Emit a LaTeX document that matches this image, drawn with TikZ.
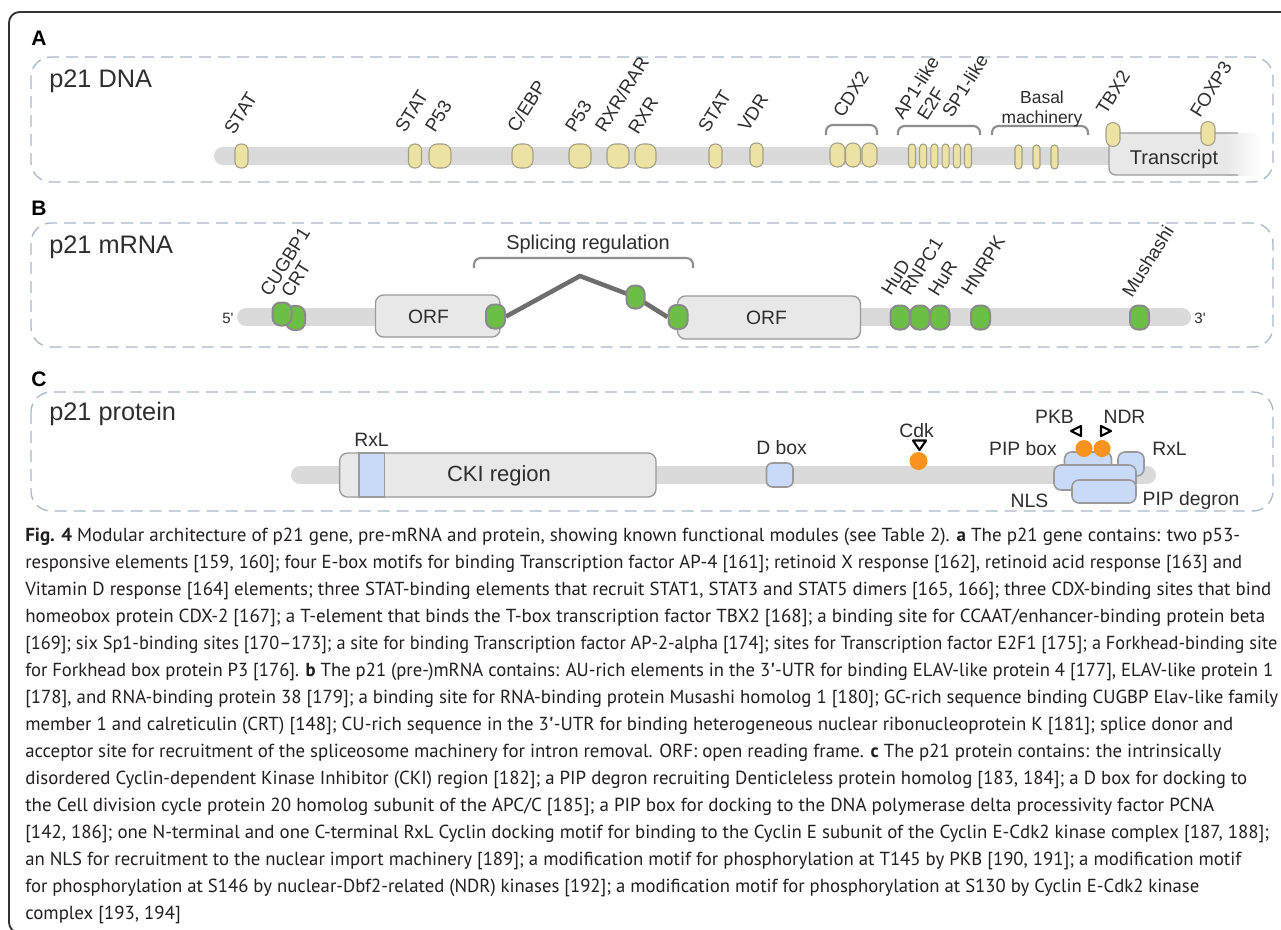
\documentclass[tikz,border=0pt]{standalone}
\usepackage{fontspec}
\usepackage{graphicx}
\setmainfont{Liberation Sans}
\newfontfamily\capfont[Ligatures=TeX]{PT Sans}
\usetikzlibrary{shapes.geometric}
\pgfdeclarelayer{bg}
\pgfsetlayers{bg,main}
\definecolor{frmc}{HTML}{333333}
\definecolor{dashc}{HTML}{A7BBCD}
\definecolor{barc}{HTML}{DADADA}
\definecolor{yelf}{HTML}{ECE2A4}
\definecolor{yelb}{HTML}{A39E86}
\definecolor{grnf}{HTML}{6DBE45}
\definecolor{grnb}{HTML}{8A8A8A}
\definecolor{boxf}{HTML}{E8E8E8}
\definecolor{boxb}{HTML}{9A9A9A}
\definecolor{bluf}{HTML}{C9DAF8}
\definecolor{orng}{HTML}{F7931E}
\definecolor{txt}{HTML}{2E2E2E}
\definecolor{splc}{HTML}{6E6E6E}
\definecolor{brkc}{HTML}{8E8E8E}
\definecolor{captc}{HTML}{231F20}
\newcommand\elem[6]{\node[#1,minimum width=#4*0.75pt,minimum height=#5*0.75pt,rounded corners=#6*0.75pt] (#2) at (#3) {};}
\newcommand\capline[4]{\node[captxt] (#1) at (25,#2) {\resizebox{\dimexpr #3pt*3/4\relax}{\height}{#4}};}
\newlength\capw
\begin{document}
\settowidth\capw{\capfont\fontsize{10pt}{12pt}\selectfont [142, 186]; one N-terminal and one C-terminal RxL Cyclin docking motif for binding to the Cyclin E subunit of the Cyclin E-Cdk2 kinase complex [187, 188];}%
\pgfmathsetmacro\capsz{10*933/\capw}%
\begin{tikzpicture}[x=0.75pt,y=-0.75pt,
 frameline/.style={draw=frmc, line width=1.4pt, rounded corners=8pt},
 panelbox/.style={draw=dashc, line width=1pt, dash pattern=on 9pt off 5.25pt, rounded corners=15pt},
 pletter/.style={font=\fontsize{15.75pt}{16pt}\selectfont\bfseries, anchor=base west, inner sep=0pt, text=black},
 ptitle/.style={font=\fontsize{19pt}{21pt}\selectfont, anchor=base west, inner sep=0pt, text=txt},
 barline/.style={draw=barc, line width=13.5pt, line cap=round},
 dnael/.style={draw=yelb, fill=yelf, line width=0.8pt, inner sep=0pt},
 rnael/.style={draw=grnb, fill=grnf, line width=1.5pt, inner sep=0pt},
 protel/.style={draw=boxb, fill=bluf, line width=1.2pt, inner sep=0pt},
 greybox/.style={draw=boxb, fill=boxf, line width=1pt, inner sep=0pt, rounded corners=6pt},
 rlbl/.style={font=\fontsize{14pt}{15pt}\selectfont, text=txt, inner sep=0pt, rotate=58, anchor=base west},
 plbl/.style={font=\fontsize{14.5pt}{16pt}\selectfont, text=txt, inner sep=0pt},
 bigtxt/.style={font=\fontsize{15pt}{16pt}\selectfont, text=txt, inner sep=0pt},
 brk/.style={draw=brkc, line width=1.6pt, rounded corners=5pt},
 splice/.style={draw=splc, line width=3.4pt, line join=round},
 tri/.style={draw=black, line width=1.6pt, line join=round, fill=white},
 phos/.style={circle, fill=orng, inner sep=0pt, minimum size=18*0.75pt},
 captxt/.style={anchor=base west, inner sep=0pt, text=captc, font=\capfont\fontsize{\capsz pt}{\capsz pt}\selectfont}
]
\useasboundingbox (0,0) rectangle (1281,929);
\begin{pgfonlayer}{bg}
\fill[white] (0,0) rectangle (1281,929);
\end{pgfonlayer}
\begin{scope}
\clip (0,0) rectangle (1281,929);
\draw[frameline] (9,12) rectangle (1300,933);
\end{scope}

% ---------- panel boxes ----------
\draw[panelbox] (31,57) rectangle (1273,182);
\draw[panelbox] (31,223) rectangle (1273,347);
\draw[panelbox] (31,392) rectangle (1273,511);

\node[pletter] (la) at (31,45) {A};
\node[pletter] (lb) at (31,215) {B};
\node[pletter] (lc) at (31,386) {C};
\node[ptitle] (ta) at (49,87) {p21 DNA};
\node[ptitle] (tb) at (49,253) {p21 mRNA};
\node[ptitle] (tc) at (49,420) {p21 protein};

% ---------- panel A ----------
\begin{pgfonlayer}{bg}
\draw[barline] (223,156) -- (1115,156);
\end{pgfonlayer}
\elem{dnael}{stat1}{241.5,156}{13}{24}{6}
\elem{dnael}{stat2}{415,156}{13}{24}{6}
\elem{dnael}{p53a}{440,156}{22}{24}{8}
\elem{dnael}{cebp}{522.5,156}{21}{24}{8}
\elem{dnael}{p53b}{580,156}{22}{24}{8}
\elem{dnael}{rxrrar}{618,156}{22}{24}{8}
\elem{dnael}{rxr}{645.5,156}{21}{24}{8}
\elem{dnael}{stat3}{715.5,156}{13}{24}{6}
\elem{dnael}{vdr}{756.5,155}{13}{24}{6}
\elem{dnael}{cdxa}{837.5,155}{15}{24}{7}
\elem{dnael}{cdxb}{853,155}{15}{24}{7}
\elem{dnael}{cdxc}{869.5,155}{15}{24}{7}
\elem{dnael}{spa}{912,156}{7}{24}{3.4}
\elem{dnael}{spb}{923.2,156}{7}{24}{3.4}
\elem{dnael}{spc}{934.4,156}{7}{24}{3.4}
\elem{dnael}{spd}{945.6,156}{7}{24}{3.4}
\elem{dnael}{spe}{956.8,156}{7}{24}{3.4}
\elem{dnael}{spf}{968,156}{7}{24}{3.4}
\elem{dnael}{bsa}{1018.5,157}{7}{24}{3.4}
\elem{dnael}{bsb}{1036.5,157}{7}{24}{3.4}
\elem{dnael}{bsc}{1054.5,157}{7}{24}{3.4}

% transcript
\fill[boxf, rounded corners=5pt] (1240,133) -- (1109,133) -- (1109,175) -- (1240,175) -- cycle;
\shade[left color=boxf, right color=white] (1226,133) rectangle (1262,175);
\draw[draw=boxb, line width=1pt, rounded corners=5pt] (1238,133) -- (1109,133) -- (1109,175) -- (1238,175);
\node[bigtxt] (transcript) at (1174,159) {Transcript};
\elem{dnael}{tbx}{1113,134.5}{14}{24}{7}
\elem{dnael}{foxp}{1208,133.5}{14}{24}{7}

\draw[brk] (826,135) -- (826,125) -- (877,125) -- (877,135);
\draw[brk] (898,135) -- (898,126) -- (980,126) -- (980,135);
\draw[brk] (992,135) -- (992,126) -- (1088,126) -- (1088,135);

\node[rlbl] (lstat1) at (234,136) {STAT};
\node[rlbl] (lstat2) at (405,134) {STAT};
\node[rlbl] (lp53a) at (435,134) {P53};
\node[rlbl] (lcebp) at (517,134) {C/EBP};
\node[rlbl] (lp53b) at (575,134) {P53};
\node[rlbl] (lrxrrar) at (605,134) {RXR/RAR};
\node[rlbl] (lrxr) at (638,136) {RXR};
\node[rlbl] (lstat3) at (708,134) {STAT};
\node[rlbl] (lvdr) at (748,133) {VDR};
\node[rlbl] (lcdx) at (843,119) {CDX2};
\node[rlbl] (lap1) at (903,121) {AP1-like};
\node[rlbl] (le2f) at (927,122) {E2F};
\node[rlbl] (lsp1) at (952,119) {SP1-like};
\node[plbl, font=\fontsize{13.1pt}{15pt}\selectfont, align=center] (lbasal) at (1042,109) {Basal\\machinery};
\node[rlbl] (ltbx) at (1106,116) {TBX2};
\node[rlbl] (lfox) at (1200,119) {FOXP3};

% ---------- panel B ----------
\begin{pgfonlayer}{bg}
\draw[barline] (246,317) -- (420,317);
\draw[barline] (840,317) -- (1182,317);
\end{pgfonlayer}
\node[plbl, font=\fontsize{11.25pt}{12pt}\selectfont] (five) at (228,318) {5\textquotesingle};
\node[plbl, font=\fontsize{11.25pt}{12pt}\selectfont] (three) at (1200,318) {3\textquotesingle};
\elem{rnael}{crt}{295.5,318}{19}{24}{8}
\elem{rnael}{cugbp}{282,314}{19}{23}{8}
\node[greybox, minimum width=124.5*0.75pt, minimum height=42*0.75pt] (orf1) at (437.75,316) {};
\node[bigtxt, font=\fontsize{14.5pt}{16pt}\selectfont] (orf1t) at (428.5,317) {ORF};
\node[greybox, minimum width=183*0.75pt, minimum height=43*0.75pt] (orf2) at (769,317.5) {};
\node[bigtxt, font=\fontsize{14.5pt}{16pt}\selectfont] (orf2t) at (766.5,318) {ORF};
\elem{rnael}{don}{495.5,316.5}{19}{24}{8}
\elem{rnael}{mid}{635.5,297}{18}{23}{8}
\elem{rnael}{acc}{678,317}{19}{24}{8}
\coordinate (peak) at (580,276);
\begin{pgfonlayer}{bg}
\draw[splice] (don.east) -- (peak) -- (mid.center) -- (acc.west);
\end{pgfonlayer}
\elem{rnael}{hud}{900,317.5}{19}{24}{8}
\elem{rnael}{rnpc}{920,317.5}{19}{24}{8}
\elem{rnael}{hur}{940,317.5}{19}{24}{8}
\elem{rnael}{hnrpk}{980.5,317.5}{19}{24}{8}
\elem{rnael}{mush}{1139.5,317.5}{19}{24}{8}
\draw[brk] (474,268) -- (474,258) -- (693,258) -- (693,268);
\node[bigtxt] (splreg) at (588,244) {Splicing regulation};
\node[rlbl] (lcugbp) at (270,298) {CUGBP1};
\node[rlbl] (lcrt) at (291,299) {CRT};
\node[rlbl] (lhud) at (891,297) {HuD};
\node[rlbl] (lrnpc) at (910,297) {RNPC1};
\node[rlbl] (lhur) at (938,298) {HuR};
\node[rlbl] (lhnrpk) at (971,297) {HNRPK};
\node[rlbl] (lmush) at (1132,299) {Mushashi};

% ---------- panel C ----------
\begin{pgfonlayer}{bg}
\draw[barline] (300,475) -- (1147,475);
\end{pgfonlayer}
\node[greybox, minimum width=316.4*0.75pt, minimum height=44*0.75pt] (cki) at (497.8,475) {};
\node[protel, minimum width=25.5*0.75pt, minimum height=44*0.75pt] (rxl1) at (371.75,475) {};
\node[bigtxt, font=\fontsize{16.5pt}{18pt}\selectfont] (ckit) at (499,476) {CKI region};
\node[plbl] (lrxl1) at (371.5,440) {RxL};
\elem{protel}{dbox}{779.75,475}{26.5}{24}{6}
\node[plbl] (ldbox) at (781.5,448) {D box};
\node[plbl] (lcdk) at (916.5,431) {Cdk};
\draw[tri] (913,440.5) -- (926,440.5) -- (919.5,450) -- cycle;
\node[phos] (cdk) at (918.5,461) {};
\elem{protel}{pipbox}{1088,464}{47}{24}{7}
\elem{protel}{rxl2}{1131,464}{26}{24}{7}
\elem{protel}{nls}{1095,477.5}{82}{25}{7}
\elem{protel}{pipd}{1104,491.5}{64}{23}{7}
\node[phos, minimum size=17*0.75pt] (pkb) at (1084,448.5) {};
\node[phos, minimum size=17*0.75pt] (ndr) at (1102,448.5) {};
\draw[tri] (1071,431) -- (1081,426) -- (1081,436) -- cycle;
\draw[tri] (1111,431) -- (1101,426) -- (1101,436) -- cycle;
\node[plbl] (lpkb) at (1054.5,417) {PKB};
\node[plbl] (lndr) at (1124.5,417) {NDR};
\node[plbl] (lpipbox) at (1023,448.5) {PIP box};
\node[plbl] (lrxl2) at (1169.5,448.5) {RxL};
\node[plbl] (lnls) at (1029.5,500.5) {NLS};
\node[plbl] (lpipd) at (1191,500.5) {PIP degron};

% ---------- caption ----------
\capline{c1}{541}{1215}{\textbf{Fig. 4} Modular architecture of p21 gene, pre-mRNA and protein, showing known functional modules (see Table 2). \textbf{a} The p21 gene contains: two p53-}
\capline{c2}{568}{1217}{responsive elements [159, 160]; four E-box motifs for binding Transcription factor AP-4 [161]; retinoid X response [162], retinoid acid response [163] and}
\capline{c3}{595}{1246}{Vitamin D response [164] elements; three STAT-binding elements that recruit STAT1, STAT3 and STAT5 dimers [165, 166]; three CDX-binding sites that bind}
\capline{c4}{622}{1240}{homeobox protein CDX-2 [167]; a T-element that binds the T-box transcription factor TBX2 [168]; a binding site for CCAAT/enhancer-binding protein beta}
\capline{c5}{649}{1252}{[169]; six Sp1-binding sites [170–173]; a site for binding Transcription factor AP-2-alpha [174]; sites for Transcription factor E2F1 [175]; a Forkhead-binding site}
\capline{c6}{676}{1248}{for Forkhead box protein P3 [176]. \textbf{b} The p21 (pre-)mRNA contains: AU-rich elements in the 3{\bfseries\textquotesingle}-UTR for binding ELAV-like protein 4 [177], ELAV-like protein 1}
\capline{c7}{703}{1253}{[178], and RNA-binding protein 38 [179]; a binding site for RNA-binding protein Musashi homolog 1 [180]; GC-rich sequence binding CUGBP Elav-like family}
\capline{c8}{730}{1208}{member 1 and calreticulin (CRT) [148]; CU-rich sequence in the 3{\bfseries\textquotesingle}-UTR for binding heterogeneous nuclear ribonucleoprotein K [181]; splice donor and}
\capline{c9}{757}{1196}{acceptor site for recruitment of the spliceosome machinery for intron removal. ORF: open reading frame. \textbf{c} The p21 protein contains: the intrinsically}
\capline{c10}{784}{1222}{disordered Cyclin-dependent Kinase Inhibitor (CKI) region [182]; a PIP degron recruiting Denticleless protein homolog [183, 184]; a D box for docking to}
\capline{c11}{811}{1189}{the Cell division cycle protein 20 homolog subunit of the APC/C [185]; a PIP box for docking to the DNA polymerase delta processivity factor PCNA}
\capline{c12}{838}{1244}{[142, 186]; one N-terminal and one C-terminal RxL Cyclin docking motif for binding to the Cyclin E subunit of the Cyclin E-Cdk2 kinase complex [187, 188];}
\capline{c13}{865}{1216}{an NLS for recruitment to the nuclear import machinery [189]; a modification motif for phosphorylation at T145 by PKB [190, 191]; a modification motif}
\capline{c14}{892}{1174}{for phosphorylation at S146 by nuclear-Dbf2-related (NDR) kinases [192]; a modification motif for phosphorylation at S130 by Cyclin E-Cdk2 kinase}
\node[captxt] (c15) at (25,919) {complex [193, 194]};
\end{tikzpicture}
\end{document}
